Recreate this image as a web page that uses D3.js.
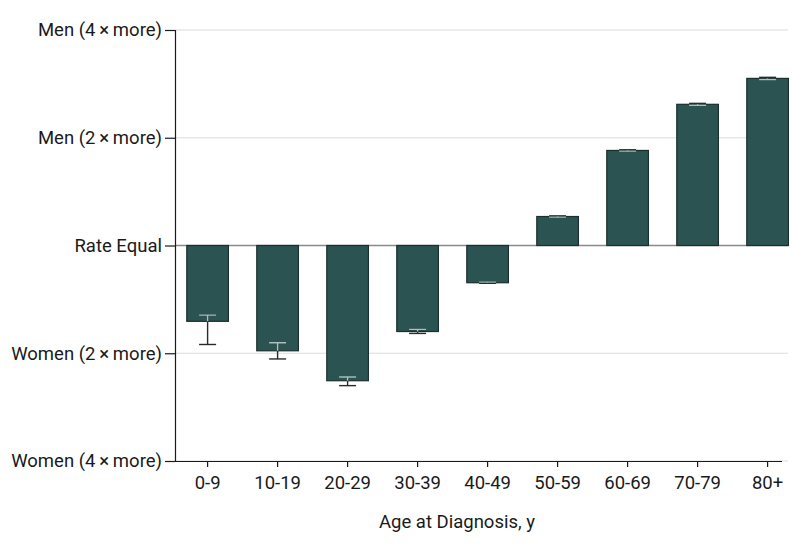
<!DOCTYPE html>
<html>
<head>
<meta charset="utf-8">
<script src="https://cdn.jsdelivr.net/npm/d3@7"></script>
<style>
  body { margin: 0; background: #fff; }
  svg text { font-family: Roboto, "Noto Sans", sans-serif; fill: #1a1a1a; }
</style>
</head>
<body>
<div id="chart"></div>
<script>
// Rate ratio (men / women) by age at diagnosis, log2 y scale

const width = 794;
const height = 546;
const margin = {left: 175, right: 6, top: 30, bottom: 85};

const ageGroups = ["0-9", "10-19", "20-29", "30-39", "40-49", "50-59", "60-69", "70-79", "80+"];
const ratio   = [0.614, 0.508, 0.419, 0.575, 0.787, 1.205, 1.843, 2.48, 2.93];
const ciLow   = [0.529, 0.482, 0.406, 0.568, 0.784, 1.200, 1.835, 2.465, 2.91];
const ciHigh  = [0.639, 0.535, 0.429, 0.583, 0.790, 1.210, 1.851, 2.495, 2.95];

const yTicks = [0.25, 0.5, 1, 2, 4];
const yTickLabels = ["Women (4\u2009\u00d7\u2009more)", "Women (2\u2009\u00d7\u2009more)", "Rate Equal", "Men (2\u2009\u00d7\u2009more)", "Men (4\u2009\u00d7\u2009more)"];

const data = ageGroups.map((g, i) => ({age: g, v: ratio[i], lo: ciLow[i], hi: ciHigh[i]}));

const svg = d3.select("#chart")
  .append("svg")
  .attr("width", width)
  .attr("height", height);

// scales
const y = d3.scaleLog().base(2)
  .domain([0.25, 4])
  .range([height - margin.bottom, margin.top]);

const x = d3.scaleBand()
  .domain(ageGroups)
  .range([172.6, 802.6])
  .paddingInner(0.405)
  .paddingOuter(0.2025);

const x0 = margin.left, x1 = width - margin.right;

// gridlines
svg.append("g")
  .selectAll("line")
  .data(yTicks)
  .enter()
  .append("line")
    .attr("x1", x0).attr("x2", x1)
    .attr("y1", d => y(d)).attr("y2", d => y(d))
    .attr("stroke", d => d === 1 ? "#8a8a8a" : "#dcdcdc")
    .attr("stroke-width", d => d === 1 ? 1.5 : 1.2);

// bars
const bars = svg.append("g");
bars.selectAll("rect")
  .data(data)
  .enter()
  .append("rect")
    .attr("x", d => x(d.age))
    .attr("width", x.bandwidth())
    .attr("y", d => y(Math.max(d.v, 1)))
    .attr("height", d => Math.abs(y(d.v) - y(1)))
    .attr("fill", "#2b5351")
    .attr("stroke", "#1b2f2e")
    .attr("stroke-width", 1.2);

// clip paths so the part of each error bar inside a bar is drawn light
const defs = svg.append("defs");
data.forEach((d, i) => {
  defs.append("clipPath").attr("id", "clip" + i)
    .append("rect")
      .attr("x", x(d.age))
      .attr("width", x.bandwidth())
      .attr("y", y(Math.max(d.v, 1)))
      .attr("height", Math.abs(y(d.v) - y(1)));
});

const capW = 8.5;
function drawErr(g, d, color) {
  const cx = x(d.age) + x.bandwidth() / 2;
  g.append("line").attr("x1", cx).attr("x2", cx).attr("y1", y(d.lo)).attr("y2", y(d.hi))
    .attr("stroke", color).attr("stroke-width", 1.4);
  [d.lo, d.hi].forEach(v => {
    g.append("line").attr("x1", cx - capW).attr("x2", cx + capW).attr("y1", y(v)).attr("y2", y(v))
      .attr("stroke", color).attr("stroke-width", 1.4);
  });
}

data.forEach((d, i) => {
  const gDark = svg.append("g");
  drawErr(gDark, d, "#2a2a2a");
  const gLight = svg.append("g").attr("clip-path", "url(#clip" + i + ")");
  drawErr(gLight, d, "#a9c3c0");
});

// y axis
const yAxis = svg.append("g")
  .attr("transform", `translate(${x0},0)`)
  .call(d3.axisLeft(y).tickValues(yTicks).tickFormat((d, i) => yTickLabels[i]).tickSize(10).tickPadding(3));
yAxis.select(".domain").attr("stroke", "#1a1a1a").attr("stroke-width", 1.2);
yAxis.selectAll(".tick line").attr("stroke", "#1a1a1a").attr("stroke-width", 1.2);
yAxis.selectAll("text").attr("font-size", "18.5px").attr("font-family", null);

// x axis
const xAxis = svg.append("g")
  .attr("transform", `translate(0,${y(0.25)})`)
  .call(d3.axisBottom(x).tickSize(6).tickSizeOuter(0).tickPadding(9));
xAxis.select(".domain").attr("d", `M${x0},0.5H${x1 - 6}`).attr("stroke", "#1a1a1a").attr("stroke-width", 1.2);
xAxis.selectAll(".tick line").attr("stroke", "#1a1a1a").attr("stroke-width", 1.2);
xAxis.selectAll("text").attr("font-size", "18.5px").attr("font-family", null);

// x axis title
svg.append("text")
  .attr("x", 457)
  .attr("y", 528)
  .attr("text-anchor", "middle")
  .attr("font-size", "18.5px")
  .text("Age at Diagnosis, y");
</script>
</body>
</html>
